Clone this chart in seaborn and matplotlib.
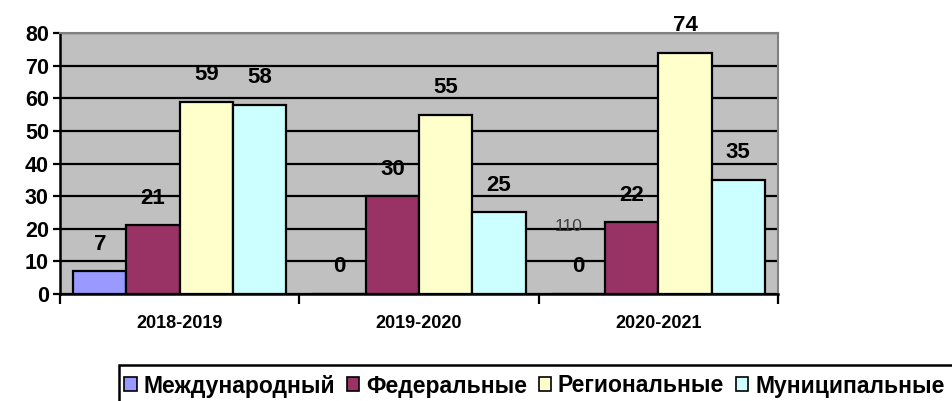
import pandas as pd
import numpy as np
import seaborn as sns
import matplotlib.pyplot as plt
from matplotlib.patches import Patch, Rectangle

periods = ["2018-2019", "2019-2020", "2020-2021"]
levels = ["Международный", "Федеральные", "Региональные", "Муниципальные"]
mezhdunar = [7, 0, 0]
federal = [21, 30, 22]
regional = [59, 55, 74]
municipal = [58, 25, 35]
colors = ["#9999FF", "#993366", "#FFFFCC", "#CCFFFF"]

rows = []
for lvl, vals in zip(levels, [mezhdunar, federal, regional, municipal]):
    for p, v in zip(periods, vals):
        rows.append({"period": p, "level": lvl, "value": v})
df = pd.DataFrame(rows)

sns.set_style("white")
plt.rcParams["font.family"] = ["Liberation Sans", "DejaVu Sans"]
plt.rcParams["text.color"] = "black"
plt.rcParams["xtick.color"] = "black"
plt.rcParams["ytick.color"] = "black"

fig = plt.figure(figsize=(9.52, 4.01), dpi=100)
ax = fig.add_axes([60 / 952, 107 / 401, 718 / 952, 261 / 401])
ax.set_facecolor("#C0C0C0")

sns.barplot(data=df, x="period", y="value", hue="level", hue_order=levels,
            order=periods, palette=colors, edgecolor="black", linewidth=1.6,
            width=0.89, gap=0, ax=ax, legend=False, saturation=1, zorder=3)

ax.set_ylim(0, 80)
ax.set_xlim(-0.5, 2.5)
ax.set_yticks(range(0, 81, 10))
ax.yaxis.grid(True, color="black", linewidth=1.6, zorder=1)
ax.set_axisbelow(True)
ax.set_xlabel("")
ax.set_ylabel("")

for s in ["top", "right"]:
    ax.spines[s].set_color("#808080")
    ax.spines[s].set_linewidth(1.5)
for s in ["left", "bottom"]:
    ax.spines[s].set_color("black")
    ax.spines[s].set_linewidth(1.8)

ax.tick_params(axis="y", direction="out", length=5, width=1.6, labelsize=15.5, pad=3, left=True)
for t in ax.get_yticklabels():
    t.set_fontweight("bold")
ax.tick_params(axis="x", length=0, labelsize=13, pad=15)
for t in ax.get_xticklabels():
    t.set_fontweight("bold")
ax.set_xticks([-0.5, 0.5, 1.5, 2.5], minor=True)
ax.tick_params(axis="x", which="minor", direction="out", length=7, width=1.6, bottom=True)

# value labels (Excel puts them a bit above the bars)
for cont in ax.containers:
    for bar in cont:
        h = bar.get_height()
        ax.text(bar.get_x() + bar.get_width() / 2, h + 8.3, f"{int(h)}",
                ha="center", va="center", fontsize=16, fontweight="bold",
                clip_on=False, zorder=5)

ax.text(1.625, 20.8, "110", ha="center", va="center", fontsize=12.5, color="#404040", zorder=5)

# legend box runs off the right/bottom edge in the original
fig.patches.append(Rectangle((119 / 952, -0.1), 0.95, 1 - 365 / 401 + 0.1,
                             transform=fig.transFigure, fill=False,
                             edgecolor="black", linewidth=1.8))
handles = [Patch(facecolor=c, edgecolor="black", linewidth=1.2) for c in colors]
leg = fig.legend(handles, levels, loc="center left", bbox_to_anchor=(124 / 952, 1 - 386 / 401),
                 ncol=4, frameon=False, prop={"weight": "bold", "size": 16.5},
                 handlelength=0.55, handleheight=0.55,
                 handletextpad=0.3, columnspacing=0.5, borderpad=0, borderaxespad=0)

fig.savefig("out.png", dpi=100)
